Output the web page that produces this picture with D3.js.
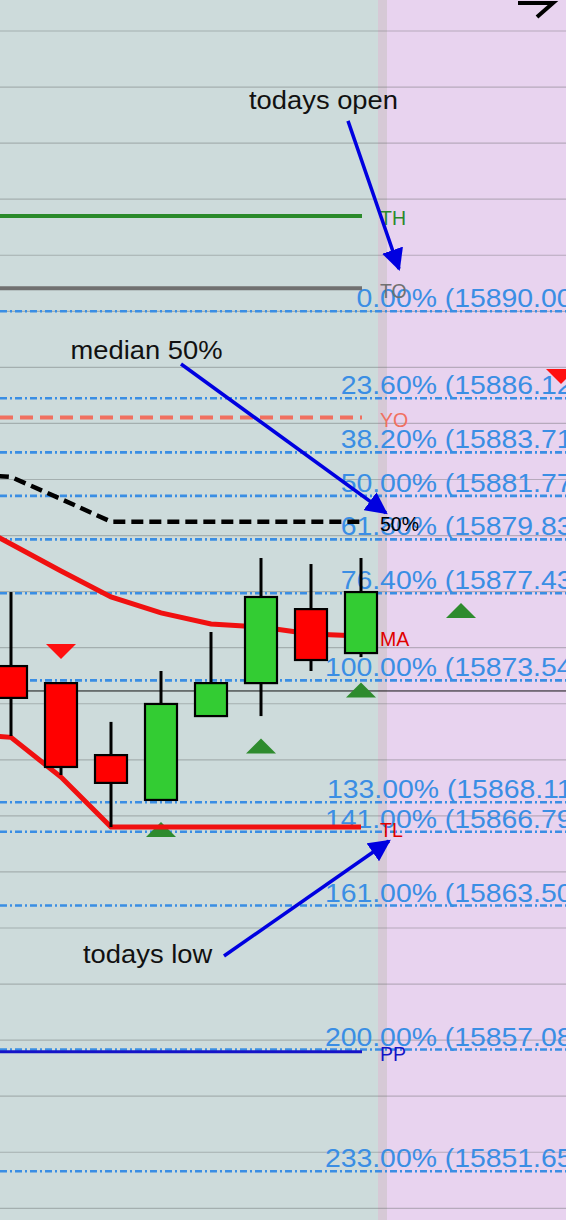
<!DOCTYPE html>
<html>
<head>
<meta charset="utf-8">
<script src="https://cdn.jsdelivr.net/npm/d3@7"></script>
<style>
  body { margin: 0; background: #cddbdb; }
  svg { display: block; font-family: "Liberation Sans", Arial, sans-serif; }
</style>
</head>
<body>
<div id="chart"></div>
<script>
// candles (slot index, open, high, low, close)
var candleIdx   = [0, 1, 2, 3, 4, 5, 6, 7];
var candleOpen  = [15874.18, 15873.42, 15870.21, 15868.21, 15871.95, 15873.42, 15876.72, 15874.76];
var candleHigh  = [15877.48, 15873.42, 15871.69, 15873.96, 15875.70, 15879.00, 15878.73, 15879.00];
var candleLow   = [15871.06, 15869.32, 15867.00, 15868.21, 15871.95, 15871.95, 15873.96, 15874.58];
var candleClose = [15872.76, 15869.68, 15868.97, 15872.49, 15873.42, 15877.26, 15874.45, 15877.48];

// study lines, one value per slot starting at -1
var lineIdx   = [-1, 0, 1, 2, 3, 4, 5, 6, 7];
var maValues  = [15880.83, 15879.62, 15878.42, 15877.26, 15876.55, 15876.06, 15875.92, 15875.61, 15875.52];
var tlValues  = [15871.20, 15871.00, 15869.23, 15867.00, 15867.00, 15867.00, 15867.00, 15867.00, 15867.00];
var medValues = [15882.79, 15882.61, 15881.63, 15880.62, 15880.62, 15880.62, 15880.62, 15880.62, 15880.62];

// fibonacci levels
var fibPct   = ["0.00", "23.60", "38.20", "50.00", "61.80", "76.40", "100.00", "133.00", "141.00", "161.00", "200.00", "233.00"];
var fibPrice = [15890.00, 15886.12, 15883.71, 15881.77, 15879.83, 15877.43, 15873.54, 15868.11, 15866.79, 15863.50, 15857.08, 15851.65];

// named levels
var levelNames  = ["TH", "TO", "YO", "PP"];
var levelPrices = [15894.25, 15891.03, 15885.26, 15856.98];
var levelColors = ["#2a8a2a", "#707070", "#f07060", "#1414c8"];
var levelDash   = [null, null, "13,7", null];

// signal triangles
var markIdx   = [1, 3, 5, 7, 9, 11];
var markPrice = [15874.83, 15866.89, 15870.62, 15873.11, 15876.66, 15887.09];
var markDir   = ["down", "up", "up", "up", "up", "down"];

var lastPrice = 15873.07;
var gridPrices = d3.range(15850, 15905, 2.5);

// annotations: text anchor + arrow from/to in (slot, price)
var noteText  = ["todays open", "median 50%", "todays low"];
var noteAt    = [[4.76, 15899.02], [1.19, 15887.87], [1.44, 15860.94]];
var noteFrom  = [[6.74, 15898.49], [3.40, 15887.65], [4.26, 15861.25]];
var noteTo    = [[7.76, 15891.89], [7.50, 15881.01], [7.56, 15866.38]];

var svgWidth = 566;
var svgHeight = 1220;

var yScale = d3.scaleLinear()
  .domain([15890, 15851.65])
  .range([311.3, 1171.3]);

var xScale = d3.scaleLinear()
  .domain([0, 11])
  .range([11, 561]);

var svg = d3.select("#chart")
  .append("svg")
  .attr("width", svgWidth)
  .attr("height", svgHeight);

var defs = svg.append("defs");
defs.append("marker")
  .attr("id", "ah")
  .attr("viewBox", "0 0 10 10")
  .attr("refX", 9).attr("refY", 5)
  .attr("markerWidth", 22).attr("markerHeight", 22)
  .attr("markerUnits", "userSpaceOnUse")
  .attr("orient", "auto")
  .append("path")
  .attr("d", "M0,0L10,5L0,10Z")
  .attr("fill", "#0000e0");

// backgrounds: history, "now" band, future
var nowLeft = xScale(7.34), nowRight = xScale(7.52);
svg.append("rect").attr("x", 0).attr("y", 0).attr("width", nowLeft).attr("height", svgHeight).attr("fill", "#cddbdb");
svg.append("rect").attr("x", nowLeft).attr("y", 0).attr("width", nowRight - nowLeft).attr("height", svgHeight).attr("fill", "#d6c9d6");
svg.append("rect").attr("x", nowRight).attr("y", 0).attr("width", svgWidth - nowRight).attr("height", svgHeight).attr("fill", "#e8d3ef");

// grid
svg.append("g").selectAll("line")
  .data(gridPrices)
  .enter()
  .append("line")
  .attr("x1", 0).attr("x2", svgWidth)
  .attr("y1", d => yScale(d)).attr("y2", d => yScale(d))
  .attr("stroke", "rgba(90,95,95,0.35)")
  .attr("stroke-width", 1.2);

// last price
svg.append("line")
  .attr("x1", 0).attr("x2", svgWidth)
  .attr("y1", yScale(lastPrice)).attr("y2", yScale(lastPrice))
  .attr("stroke", "#111").attr("stroke-width", 1);

// fib lines + labels
var fibColor = "#3a8ee4";
svg.append("g").selectAll("line")
  .data(fibPrice)
  .enter()
  .append("line")
  .attr("x1", 0).attr("x2", svgWidth)
  .attr("y1", d => yScale(d)).attr("y2", d => yScale(d))
  .attr("stroke", fibColor)
  .attr("stroke-width", 2.6)
  .attr("stroke-dasharray", "7,3,2,3");

svg.append("g").selectAll("text")
  .data(fibPrice)
  .enter()
  .append("text")
  .attr("transform", d => `translate(582, ${yScale(d) - 4}) scale(1.1,1)`)
  .attr("text-anchor", "end")
  .attr("font-size", 25.8)
  .attr("fill", fibColor)
  .text((d, i) => `${fibPct[i]}% (${d.toFixed(2)})`);

// level lines
var lineEnd = xScale(7) + 1;
levelPrices.forEach(function(p, i) {
  svg.append("line")
    .attr("x1", 0).attr("x2", lineEnd)
    .attr("y1", yScale(p)).attr("y2", yScale(p))
    .attr("stroke", levelColors[i])
    .attr("stroke-width", i == 3 ? 3 : 4)
    .attr("stroke-dasharray", levelDash[i]);
});

// study lines
var studyLine = d3.line()
  .x((d, i) => xScale(lineIdx[i]))
  .y(d => yScale(d));

svg.append("path").attr("d", studyLine(medValues))
  .attr("fill", "none").attr("stroke", "#000").attr("stroke-width", 4.5)
  .attr("stroke-dasharray", "12,6");
svg.append("path").attr("d", studyLine(maValues))
  .attr("fill", "none").attr("stroke", "#f01010").attr("stroke-width", 5);

// triangles
svg.append("g").selectAll("path")
  .data(markPrice)
  .enter()
  .append("path")
  .attr("d", (d, i) => markDir[i] == "up" ? "M-15,7.5L0,-7.5L15,7.5Z" : "M-15,-7.5L0,7.5L15,-7.5Z")
  .attr("transform", (d, i) => `translate(${xScale(markIdx[i])}, ${yScale(d)})`)
  .attr("fill", (d, i) => markDir[i] == "up" ? "#2e8b2e" : "#ff1010");

svg.append("path").attr("d", studyLine(tlValues))
  .attr("fill", "none").attr("stroke", "#f01010").attr("stroke-width", 5);

// candles
var bodyW = 32;
var candles = svg.append("g").selectAll("g")
  .data(candleIdx)
  .enter()
  .append("g");

candles.append("line")
  .attr("x1", d => xScale(d)).attr("x2", d => xScale(d))
  .attr("y1", (d, i) => yScale(candleHigh[i]))
  .attr("y2", (d, i) => yScale(candleLow[i]))
  .attr("stroke", "#000").attr("stroke-width", 3);

candles.append("rect")
  .attr("x", d => xScale(d) - bodyW / 2)
  .attr("width", bodyW)
  .attr("y", (d, i) => yScale(Math.max(candleOpen[i], candleClose[i])))
  .attr("height", (d, i) => Math.abs(yScale(candleOpen[i]) - yScale(candleClose[i])))
  .attr("fill", (d, i) => candleClose[i] >= candleOpen[i] ? "#33cc33" : "#ff0000")
  .attr("stroke", "#000").attr("stroke-width", 2.2);

// level labels
var labelX = xScale(7) + 19;
var lbls = levelNames.map((n, i) => ({ t: n, p: levelPrices[i], c: levelColors[i] }));
lbls.push({ t: "MA", p: maValues[maValues.length - 1], c: "#e00000" });
lbls.push({ t: "TL", p: tlValues[tlValues.length - 1], c: "#e00000" });
lbls.push({ t: "50%", p: medValues[medValues.length - 1], c: "#000" });
svg.append("g").selectAll("text")
  .data(lbls)
  .enter()
  .append("text")
  .attr("x", labelX)
  .attr("y", d => yScale(d.p) + 9.5)
  .attr("font-size", 19.5)
  .attr("fill", d => d.c)
  .text(d => d.t);

// annotations
noteText.forEach(function(t, i) {
  svg.append("text")
    .attr("transform", `translate(${xScale(noteAt[i][0])}, ${yScale(noteAt[i][1])}) scale(1.06,1)`)
    .attr("font-size", 25.8)
    .attr("fill", "#111")
    .text(t);
  svg.append("line")
    .attr("x1", xScale(noteFrom[i][0])).attr("y1", yScale(noteFrom[i][1]))
    .attr("x2", xScale(noteTo[i][0])).attr("y2", yScale(noteTo[i][1]))
    .attr("stroke", "#0000e0").attr("stroke-width", 3.5)
    .attr("marker-end", "url(#ah)");
});

// drawing-tool arrow cut off at top right
var cornerArrow = [[10.14, 15903.75], [10.84, 15903.75], [10.52, 15903.12]];
svg.append("path")
  .attr("d", `M${xScale(cornerArrow[0][0])},${yScale(cornerArrow[0][1])}H${xScale(cornerArrow[1][0])}L${xScale(cornerArrow[2][0])},${yScale(cornerArrow[2][1])}`)
  .attr("fill", "none").attr("stroke", "#000").attr("stroke-width", 4);
</script>
</body>
</html>
